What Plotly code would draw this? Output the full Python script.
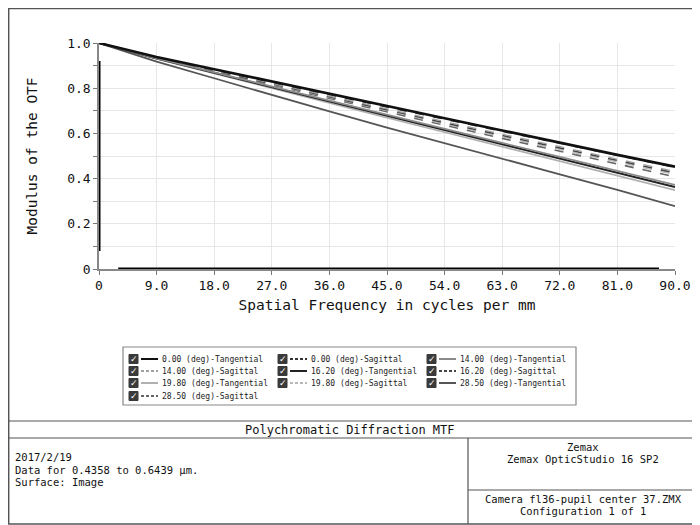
#!/usr/bin/env python3
"""
Polychromatic Diffraction MTF - Zemax style plot
"""

import plotly.graph_objects as go

# spatial frequency samples (cycles/mm)
freq = [0, 9, 18, 27, 36, 45, 54, 63, 72, 81, 90]

# MTF values, one list per field / orientation
t_000 = [1.0, 0.938, 0.884, 0.829, 0.774, 0.721, 0.667, 0.613, 0.558, 0.505, 0.453]
s_000 = [1.0, 0.937, 0.882, 0.826, 0.771, 0.717, 0.663, 0.609, 0.555, 0.502, 0.450]
t_140 = [1.0, 0.932, 0.870, 0.807, 0.744, 0.682, 0.620, 0.558, 0.496, 0.434, 0.372]
s_140 = [1.0, 0.936, 0.879, 0.821, 0.764, 0.708, 0.652, 0.596, 0.541, 0.486, 0.432]
t_162 = [1.0, 0.931, 0.868, 0.804, 0.741, 0.678, 0.615, 0.552, 0.490, 0.427, 0.363]
s_162 = [1.0, 0.935, 0.877, 0.819, 0.761, 0.704, 0.647, 0.591, 0.535, 0.480, 0.425]
t_198 = [1.0, 0.930, 0.865, 0.799, 0.734, 0.669, 0.605, 0.541, 0.477, 0.413, 0.349]
s_198 = [1.0, 0.935, 0.876, 0.817, 0.758, 0.700, 0.642, 0.585, 0.529, 0.473, 0.418]
t_285 = [1.0, 0.918, 0.844, 0.770, 0.697, 0.626, 0.556, 0.487, 0.419, 0.350, 0.278]
s_285 = [1.0, 0.934, 0.874, 0.814, 0.754, 0.695, 0.636, 0.578, 0.521, 0.464, 0.408]

names = ['0.00 (deg)-Tangential', '0.00 (deg)-Sagittal', '14.00 (deg)-Tangential',
         '14.00 (deg)-Sagittal', '16.20 (deg)-Tangential', '16.20 (deg)-Sagittal',
         '19.80 (deg)-Tangential', '19.80 (deg)-Sagittal', '28.50 (deg)-Tangential',
         '28.50 (deg)-Sagittal']
series = [t_000, s_000, t_140, s_140, t_162, s_162, t_198, s_198, t_285, s_285]
colors = ['#111111', '#333333', '#8a8a8a', '#a0a0a0', '#222222',
          '#444444', '#b0b0b0', '#b8b8b8', '#555555', '#666666']
dashes = ['solid', 'dash'] * 5
widths = [2.6, 1.6, 1.6, 1.3, 2.0, 1.6, 1.6, 1.3, 1.8, 1.6]

y_ticks = [0, 0.1, 0.2, 0.3, 0.4, 0.5, 0.6, 0.7, 0.8, 0.9, 1.0]
y_labels = ['0', '', '0.2', '', '0.4', '', '0.6', '', '0.8', '', '1.0']
x_labels = ['0', '9.0', '18.0', '27.0', '36.0', '45.0', '54.0', '63.0', '72.0', '81.0', '90.0']

MONO = 'DejaVu Sans Mono'
# page body has an 8px margin, so the figure is shrunk by that and positions shifted
OFF = 8
W, H = 700 - OFF, 525 - OFF


def px(x):
    return (x - OFF) / W


def py(y):
    return 1 - (y - OFF) / H


fig = go.Figure()

# draw back to front so the on-axis tangential ends up on top
for i in reversed(range(len(series))):
    fig.add_trace(go.Scatter(x=freq, y=series[i], mode='lines', name=names[i],
                             line=dict(color=colors[i], width=widths[i], dash=dashes[i]),
                             showlegend=False))

shapes = []
annotations = []

# heavy black segments on the axes (Zemax rendering look)
shapes.append(dict(type='line', xref='x', yref='y', x0=0, x1=0, y0=0.08, y1=0.92,
                   line=dict(color='black', width=3)))
shapes.append(dict(type='line', xref='x', yref='y', x0=3, x1=87.5, y0=0, y1=0,
                   line=dict(color='black', width=3)))

# outer frame
shapes.append(dict(type='rect', xref='paper', yref='paper', x0=0.001, x1=px(699),
                   y0=py(524), y1=0.999, line=dict(color='#555555', width=1.5)))

# legend box
shapes.append(dict(type='rect', xref='paper', yref='paper', x0=px(123), x1=px(576),
                   y0=py(405), y1=py(347), line=dict(color='#888888', width=1.2)))
col_x = [129, 278, 427]
row_y = [359, 371, 383, 396]
for i, name in enumerate(names):
    cx = col_x[i % 3]
    ry = row_y[i // 3]
    shapes.append(dict(type='rect', xref='paper', yref='paper', x0=px(cx), x1=px(cx + 9),
                       y0=py(ry + 4.5), y1=py(ry - 4.5), fillcolor='#3a3a3a',
                       line=dict(color='#3a3a3a', width=1)))
    annotations.append(dict(x=px(cx + 4.5), y=py(ry), xref='paper', yref='paper',
                            text='✓', showarrow=False, xanchor='center', yanchor='middle',
                            font=dict(family='DejaVu Sans', size=9, color='white')))
    shapes.append(dict(type='line', xref='paper', yref='paper', x0=px(cx + 12), x1=px(cx + 29),
                       y0=py(ry), y1=py(ry),
                       line=dict(color=colors[i], width=2,
                                 dash='3px,2px' if dashes[i] == 'dash' else 'solid')))
    annotations.append(dict(x=px(cx + 31), y=py(ry), xref='paper', yref='paper',
                            text=name, showarrow=False, xanchor='left', yanchor='middle',
                            font=dict(family=MONO, size=8, color='#222222')))

# footer boxes
line_style = dict(color='#555555', width=1.2)
shapes.append(dict(type='line', xref='paper', yref='paper', x0=0, x1=px(699),
                   y0=py(421), y1=py(421), line=line_style))
shapes.append(dict(type='line', xref='paper', yref='paper', x0=0, x1=px(699),
                   y0=py(438), y1=py(438), line=line_style))
shapes.append(dict(type='line', xref='paper', yref='paper', x0=px(468), x1=px(468),
                   y0=py(524), y1=py(438), line=line_style))
shapes.append(dict(type='line', xref='paper', yref='paper', x0=px(468), x1=px(699),
                   y0=py(490), y1=py(490), line=line_style))

footer = [
    ('Polychromatic Diffraction MTF', 350, 430, 'center', 12),
    ('2017/2/19', 13, 457, 'left', 10.5),
    ('Data for 0.4358 to 0.6439 µm.', 13, 469.5, 'left', 10.5),
    ('Surface: Image', 13, 481.5, 'left', 10.5),
    ('Zemax', 583, 447, 'center', 10.5),
    ('Zemax OpticStudio 16 SP2', 583, 458.5, 'center', 10.5),
    ('Camera fl36-pupil center 37.ZMX', 583, 499, 'center', 10.5),
    ('Configuration 1 of 1', 583, 510.5, 'center', 10.5),
]
for text, x, y, anchor, size in footer:
    annotations.append(dict(x=px(x), y=py(y), xref='paper', yref='paper', text=text,
                            showarrow=False, xanchor=anchor, yanchor='middle',
                            font=dict(family=MONO, size=size, color='#111111')))

fig.update_layout(
    width=W, height=H,
    margin=dict(l=0, r=0, t=0, b=0),
    paper_bgcolor='white', plot_bgcolor='white',
    font=dict(family=MONO, color='#111111'),
    shapes=shapes,
    annotations=annotations,
    xaxis=dict(domain=[px(99), px(675)], range=[0, 90], automargin=False,
               tickmode='array', tickvals=freq, ticktext=x_labels,
               ticks='outside', ticklen=4, tickcolor='#777777',
               tickfont=dict(family=MONO, size=13),
               showline=True, linecolor='#888888', linewidth=1.5,
               showgrid=True, gridcolor='#e6e6e6', gridwidth=1, zeroline=False,
               title=dict(text='Spatial Frequency in cycles per mm',
                          font=dict(family=MONO, size=14.5), standoff=8)),
    yaxis=dict(domain=[py(269), py(43)], range=[0, 1], automargin=False,
               tickmode='array', tickvals=y_ticks, ticktext=y_labels,
               ticks='outside', ticklen=4, tickcolor='#777777',
               tickfont=dict(family=MONO, size=13),
               showline=True, linecolor='#888888', linewidth=1.5,
               showgrid=True, gridcolor='#e6e6e6', gridwidth=1, zeroline=False,
               title=dict(text='Modulus of the OTF',
                          font=dict(family=MONO, size=14.5), standoff=26)),
)

fig.write_html("out.html")
